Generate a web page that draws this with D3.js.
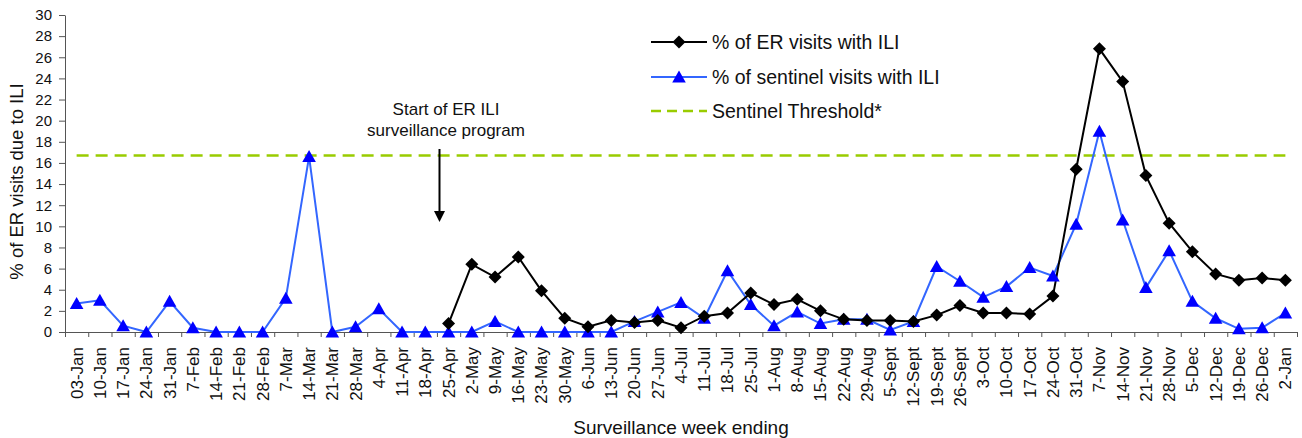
<!DOCTYPE html>
<html>
<head>
<meta charset="utf-8">
<title>ER ILI surveillance</title>
<style>
    body { margin: 0; background: #fff; font-family: "Liberation Sans", Arial, sans-serif; }
    text { fill: #111; }
</style>
</head>
<body>
<script src="https://d3js.org/d3.v7.min.js"></script>
<script>
    var width = 1302, height = 438;
    var margin = {top: 15, left: 65, right: 5, bottom: 106};
    var w = width - margin.left - margin.right,
        h = height - margin.top - margin.bottom;

    // week ending labels
    var weeks = ["03-Jan","10-Jan","17-Jan","24-Jan","31-Jan","7-Feb","14-Feb","21-Feb","28-Feb",
        "7-Mar","14-Mar","21-Mar","28-Mar","4-Apr","11-Apr","18-Apr","25-Apr",
        "2-May","9-May","16-May","23-May","30-May","6-Jun","13-Jun","20-Jun","27-Jun",
        "4-Jul","11-Jul","18-Jul","25-Jul","1-Aug","8-Aug","15-Aug","22-Aug","29-Aug",
        "5-Sept","12-Sept","19-Sept","26-Sept","3-Oct","10-Oct","17-Oct","24-Oct","31-Oct",
        "7-Nov","14-Nov","21-Nov","28-Nov","5-Dec","12-Dec","19-Dec","26-Dec","2-Jan"];

    // % of ER visits with ILI (program starts 25-Apr)
    var erVisits = [null,null,null,null,null,null,null,null,null,null,null,null,null,null,null,null,
        0.8,6.4,5.2,7.1,3.9,1.3,0.5,1.1,0.9,1.1,0.4,1.5,1.8,3.7,2.6,3.1,2.0,1.2,1.1,
        1.1,1.0,1.6,2.5,1.8,1.8,1.7,3.4,15.4,26.8,23.7,14.8,10.3,7.6,5.5,4.9,5.1,4.9];

    // % of sentinel visits with ILI
    var sentinel = [2.7,3.0,0.6,0,2.9,0.4,0,0,0,3.2,16.6,0,0.5,2.2,0,0,0,
        0,1.0,0,0,0,0,0,1.0,1.9,2.8,1.3,5.8,2.6,0.6,1.9,0.8,1.2,1.2,
        0.2,1.0,6.2,4.8,3.3,4.3,6.1,5.3,10.2,19.0,10.6,4.2,7.7,2.9,1.3,0.3,0.4,1.8];

    var threshold = 16.7;
    var yTicks = d3.range(0, 31, 2);

    var svg = d3.select("body").append("svg")
        .attr("width", width)
        .attr("height", height);

    var g = svg.append("g")
        .attr("transform", "translate(" + margin.left + "," + margin.top + ")");

    var x = d3.scaleBand().domain(weeks).range([0, w]).padding(0);
    var xEdge = d3.scaleLinear().domain([0, weeks.length]).range([0, w]);
    var y = d3.scaleLinear().domain([0, 30]).range([h, 0]);

    function cx(d, i) { return x(weeks[i]) + x.bandwidth() / 2; }

    // y axis
    var yAxis = g.append("g")
        .call(d3.axisLeft(y).tickValues(yTicks).tickSize(6).tickPadding(7).tickSizeOuter(0));
    yAxis.select(".domain").attr("stroke", "#555");
    yAxis.selectAll(".tick line").attr("stroke", "#555");
    yAxis.selectAll("text").style("font-size", "15px").style("font-family", "Liberation Sans, Arial, sans-serif").attr("fill", "#111");

    // x axis: ticks between categories
    var xTickAxis = g.append("g")
        .attr("transform", "translate(0," + h + ")")
        .call(d3.axisBottom(xEdge).tickValues(d3.range(0, weeks.length + 1)).tickSize(5).tickFormat("").tickSizeOuter(0));
    xTickAxis.select(".domain").attr("stroke", "#555");
    xTickAxis.selectAll(".tick line").attr("stroke", "#555");

    var xLabels = g.append("g")
        .attr("transform", "translate(0," + h + ")")
        .call(d3.axisBottom(x).tickSize(0).tickPadding(0));
    xLabels.select(".domain").remove();
    xLabels.selectAll("text")
        .style("font-size", "17px")
        .style("font-family", "Liberation Sans, Arial, sans-serif")
        .attr("fill", "#111")
        .attr("text-anchor", "end")
        .attr("transform", "rotate(-90)")
        .attr("x", -15)
        .attr("y", 0)
        .attr("dy", "0.35em");

    // threshold
    var line = d3.line()
        .defined(function(d) { return d != null; })
        .x(cx)
        .y(function(d) { return y(d); });

    g.append("path")
        .datum(weeks.map(function() { return threshold; }))
        .attr("fill", "none")
        .attr("stroke", "#99cc00")
        .attr("stroke-width", 2.5)
        .attr("stroke-dasharray", "12,7")
        .attr("d", line);

    // sentinel series
    g.append("path")
        .datum(sentinel)
        .attr("fill", "none")
        .attr("stroke", "#3366ff")
        .attr("stroke-width", 2)
        .attr("d", line);

    // ER series
    g.append("path")
        .datum(erVisits)
        .attr("fill", "none")
        .attr("stroke", "#000")
        .attr("stroke-width", 2)
        .attr("d", line);

    var tri = "M0,-6.5L6.8,5.5L-6.8,5.5Z";
    var diamond = "M0,-6.5L6.5,0L0,6.5L-6.5,0Z";

    g.append("g").selectAll("path")
        .data(sentinel).enter()
        .append("path")
        .attr("d", tri)
        .attr("fill", "#0000ff")
        .attr("transform", function(d, i) { return "translate(" + cx(d, i) + "," + y(d) + ")"; });

    g.append("g").selectAll("path")
        .data(erVisits.map(function(d, i) { return {v: d, i: i}; }).filter(function(d) { return d.v != null; }))
        .enter()
        .append("path")
        .attr("d", diamond)
        .attr("fill", "#000")
        .attr("transform", function(d) { return "translate(" + cx(d.v, d.i) + "," + y(d.v) + ")"; });

    // annotation
    var ann = svg.append("g").style("font-size", "17px");
    ann.append("text").attr("x", 446).attr("y", 115).attr("text-anchor", "middle").text("Start of ER ILI");
    ann.append("text").attr("x", 446).attr("y", 136).attr("text-anchor", "middle").text("surveillance program");

    svg.append("line")
        .attr("x1", 439.5).attr("y1", 149)
        .attr("x2", 439.5).attr("y2", 213)
        .attr("stroke", "#000")
        .attr("stroke-width", 2);
    svg.append("path")
        .attr("d", "M434,211L445,211L439.5,222Z")
        .attr("fill", "#000");

    // legend
    var legend = svg.append("g").attr("transform", "translate(651,0)");
    var items = [
        {label: "% of ER visits with ILI", color: "#000", dash: null, shape: diamond, fill: "#000", y: 42},
        {label: "% of sentinel visits with ILI", color: "#3366ff", dash: null, shape: tri, fill: "#0000ff", y: 77},
        {label: "Sentinel Threshold*", color: "#99cc00", dash: "10,6", shape: null, y: 111}
    ];
    items.forEach(function(it) {
        legend.append("line")
            .attr("x1", 0).attr("x2", 56)
            .attr("y1", it.y).attr("y2", it.y)
            .attr("stroke", it.color)
            .attr("stroke-width", it.dash ? 2.5 : 2)
            .attr("stroke-dasharray", it.dash);
        if (it.shape) {
            legend.append("path")
                .attr("d", it.shape)
                .attr("fill", it.fill)
                .attr("transform", "translate(28," + it.y + ")");
        }
        legend.append("text")
            .attr("x", 61).attr("y", it.y)
            .attr("dy", "0.35em")
            .style("font-size", "19.5px")
            .text(it.label);
    });

    // axis titles
    svg.append("text")
        .attr("transform", "translate(17," + (margin.top + h / 2 + 8) + ") rotate(-90)")
        .attr("text-anchor", "middle")
        .attr("dy", "0.35em")
        .style("font-size", "18.5px")
        .text("% of ER visits due to ILI");

    svg.append("text")
        .attr("x", 681).attr("y", 427)
        .attr("text-anchor", "middle")
        .attr("dy", "0.35em")
        .style("font-size", "19px")
        .text("Surveillance week ending");
</script>
</body>
</html>
